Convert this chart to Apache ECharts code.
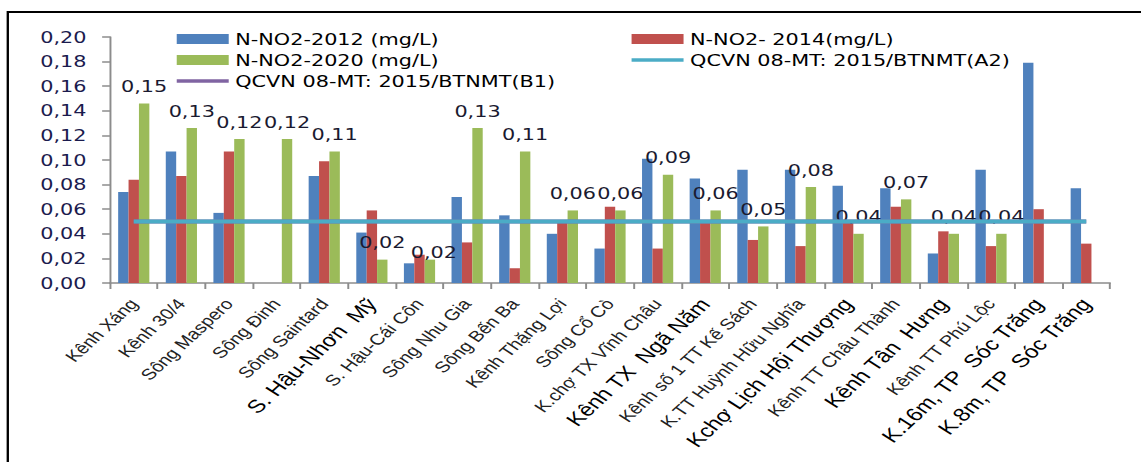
<!DOCTYPE html>
<html>
<head>
<meta charset="utf-8">
<script src="https://cdn.jsdelivr.net/npm/echarts@6/dist/echarts.min.js"></script>
<style>
  html, body { margin: 0; padding: 0; background: #fff; overflow: hidden; }
  #wrap { width: 1141px; height: 462px; overflow: hidden; }
  /* the chart is laid out narrow and widened, giving the broad lettering of the figure */
  #chart { width: 878px; height: 462px; transform: scaleX(1.29954); transform-origin: 0 0; }
</style>
</head>
<body>
<div id="wrap"><div id="chart"></div></div>
<script>
// Sampling sites
const categories = [
  'Kênh Xáng', 'Kênh 30/4', 'Sông Maspero', 'Sông Đinh', 'Sông Saintard',
  'S. Hậu-Nhơn\u00a0 Mỹ', 'S. Hậu-Cái Côn', 'Sông Nhu Gia', 'Sông Bến Ba', 'Kênh Thặng Lợi',
  'Sông Cổ Cò', 'K.chợ TX Vĩnh Châu', 'Kênh TX\u00a0 Ngã Năm', 'Kênh số 1 TT Kế Sách',
  'K.TT Huỳnh Hữu Nghĩa', 'Kchợ Lịch Hội Thượng', 'Kênh TT Châu Thành', 'Kênh Tân\u00a0 Hưng',
  'Kênh TT Phú Lộc', 'K.16m, TP\u00a0 Sóc Trăng', 'K.8m, TP\u00a0 Sóc Trăng'
];

// N-NO2 concentration (mg/L)
const no2_2012 = [0.074, 0.107, 0.057, null, 0.087, 0.041, 0.016, 0.070, 0.055, 0.040, 0.028,
                  0.101, 0.085, 0.092, 0.092, 0.079, 0.077, 0.024, 0.092, 0.179, 0.077];
const no2_2014 = [0.084, 0.087, 0.107, null, 0.099, 0.059, 0.023, 0.033, 0.012, 0.050, 0.062,
                  0.028, 0.050, 0.035, 0.030, 0.050, 0.062, 0.042, 0.030, 0.060, 0.032];
const no2_2020 = [0.146, 0.126, 0.117, 0.117, 0.107, 0.019, 0.019, 0.126, 0.107, 0.059, 0.059,
                  0.088, 0.059, 0.046, 0.078, 0.040, 0.068, 0.040, 0.040, null, null];

// QCVN 08-MT:2015/BTNMT limits
const limitB1 = categories.map(() => 0.05);
const limitA2 = categories.map(() => 0.05);

// Axis ticks
const yMin = 0, yMax = 0.20, yStep = 0.02;

const seriesNames = {
  s2012: 'N-NO2-2012 (mg/L)',
  s2014: 'N-NO2- 2014(mg/L)',
  s2020: 'N-NO2-2020 (mg/L)',
  b1: 'QCVN 08-MT: 2015/BTNMT(B1)',
  a2: 'QCVN 08-MT: 2015/BTNMT(A2)'
};

// site labels drawn in the larger type
const largeLabelIdx = new Set([5, 12, 15, 17, 19, 20]);
// label nudges for the 2020 series (index -> [dx, dy])
const labelNudge = { 6: [3, 10] };

const comma = v => v.toFixed(2).replace('.', ',');
const numFont = 'DejaVu Sans';
const lineIcon = 'path://M0,0H40V3.5H0Z';

const chart = echarts.init(document.getElementById('chart'), null, { renderer: 'svg' });

const data2020 = no2_2020.map((v, i) => labelNudge[i]
  ? { value: v, label: { offset: labelNudge[i] } }
  : v);

const legendCommon = {
  orient: 'vertical',
  itemWidth: 40,
  itemHeight: 10,
  padding: 0,
  symbolKeepAspect: true,
  textStyle: { fontFamily: numFont, fontSize: 16, color: '#000' },
  selectedMode: false
};

chart.setOption({
  animation: false,
  backgroundColor: '#fff',
  graphic: [
    { type: 'polyline', shape: { points: [[6, 462], [6, 12], [878, 12]] },
      style: { stroke: '#000', lineWidth: 1.8, fill: null } }
  ],
  legend: [
    Object.assign({}, legendCommon, {
      left: 136, top: 31, itemGap: 5,
      data: [
        { name: seriesNames.s2012, icon: 'rect' },
        { name: seriesNames.s2020, icon: 'rect' },
        { name: seriesNames.b1, icon: lineIcon }
      ]
    }),
    Object.assign({}, legendCommon, {
      left: 486, top: 31, itemGap: 5,
      data: [
        { name: seriesNames.s2014, icon: 'rect' },
        { name: seriesNames.a2, icon: lineIcon }
      ]
    })
  ],
  grid: { left: 84.6, right: 23.8, top: 37, bottom: 179, containLabel: false },
  xAxis: {
    type: 'category',
    data: categories,
    boundaryGap: true,
    axisLine: { lineStyle: { color: '#8c8c8c', width: 1.5 } },
    axisTick: { show: true, length: 6, lineStyle: { color: '#8c8c8c', width: 1.5 } },
    axisLabel: {
      interval: 0,
      rotate: 50,
      margin: 18,
      fontFamily: 'Liberation Sans',
      formatter: (v, i) => largeLabelIdx.has(i) ? '{b|' + v + '}' : '{s|' + v + '}',
      rich: {
        b: { fontFamily: 'Liberation Sans', fontSize: 18.5, color: '#000' },
        s: { fontFamily: 'Liberation Sans', fontSize: 15.5, color: '#222' }
      }
    }
  },
  yAxis: {
    type: 'value',
    min: yMin, max: yMax, interval: yStep,
    splitLine: { show: false },
    axisLine: { show: true, lineStyle: { color: '#8c8c8c', width: 1.5 } },
    axisTick: { show: true, length: 6, lineStyle: { color: '#8c8c8c', width: 1.5 } },
    axisLabel: { margin: 18, fontFamily: numFont, fontSize: 16, color: '#1b1b4e', formatter: comma }
  },
  series: [
    { name: seriesNames.s2012, type: 'bar', data: no2_2012, barWidth: 8, barGap: '0%',
      itemStyle: { color: '#4f81bd' } },
    { name: seriesNames.s2014, type: 'bar', data: no2_2014, barWidth: 8, barGap: '0%',
      itemStyle: { color: '#c0504d' } },
    { name: seriesNames.s2020, type: 'bar', data: data2020, barWidth: 8, barGap: '0%',
      itemStyle: { color: '#9bbb59' },
      label: { show: true, position: 'top', distance: 9, fontFamily: numFont, fontSize: 16,
               color: '#1a1a30', formatter: p => comma(p.value) } },
    { name: seriesNames.b1, type: 'line', data: limitB1, symbol: 'none', z: 3,
      lineStyle: { color: '#8064a2', width: 4 }, itemStyle: { color: '#8064a2' } },
    { name: seriesNames.a2, type: 'line', data: limitA2, symbol: 'none', z: 4,
      lineStyle: { color: '#4bacc6', width: 4 }, itemStyle: { color: '#4bacc6' } }
  ]
});
</script>
</body>
</html>
